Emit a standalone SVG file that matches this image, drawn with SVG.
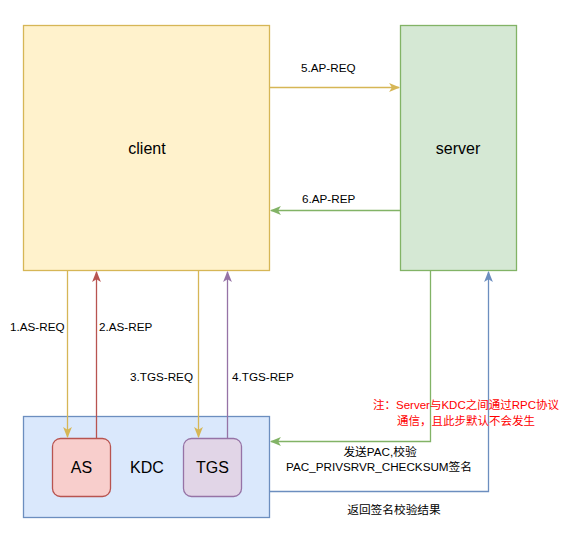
<svg xmlns="http://www.w3.org/2000/svg" width="566" height="545" viewBox="0 0 566 545">
<style>
.lbl{font-family:"Liberation Sans",Arial,"Noto Sans CJK SC",sans-serif;font-size:11.7px;fill:#000}
.big{font-family:"Liberation Sans",Arial,sans-serif;font-size:16px;fill:#000;text-anchor:middle;dominant-baseline:central}
.note{font-family:"Liberation Sans",Arial,"Noto Sans CJK SC",sans-serif;font-size:11.5px;fill:#ff0000;text-anchor:middle}
.edge{fill:none;stroke-width:1.3}
</style>
<defs>
<marker id="aY" viewBox="0 0 10 10" refX="9" refY="5" markerWidth="11" markerHeight="11" markerUnits="userSpaceOnUse" orient="auto"><path d="M0,1 L10,5 L0,9 L2.5,5 Z" fill="#d6b656"/></marker>
<marker id="aR" viewBox="0 0 10 10" refX="9" refY="5" markerWidth="11" markerHeight="11" markerUnits="userSpaceOnUse" orient="auto"><path d="M0,1 L10,5 L0,9 L2.5,5 Z" fill="#b85450"/></marker>
<marker id="aP" viewBox="0 0 10 10" refX="9" refY="5" markerWidth="11" markerHeight="11" markerUnits="userSpaceOnUse" orient="auto"><path d="M0,1 L10,5 L0,9 L2.5,5 Z" fill="#9673a6"/></marker>
<marker id="aG" viewBox="0 0 10 10" refX="9" refY="5" markerWidth="11" markerHeight="11" markerUnits="userSpaceOnUse" orient="auto"><path d="M0,1 L10,5 L0,9 L2.5,5 Z" fill="#82b366"/></marker>
<marker id="aB" viewBox="0 0 10 10" refX="9" refY="5" markerWidth="11" markerHeight="11" markerUnits="userSpaceOnUse" orient="auto"><path d="M0,1 L10,5 L0,9 L2.5,5 Z" fill="#6c8ebf"/></marker>
</defs>
<rect width="566" height="545" fill="#ffffff"/>
<g id="client"><rect x="23.5" y="25.5" width="246" height="245" fill="#fff2cc" stroke="#d6b656" stroke-width="1.3"/><text class="big" x="147" y="148">client</text></g>
<g id="server"><rect x="400.5" y="25.5" width="116" height="245" fill="#d5e8d4" stroke="#82b366" stroke-width="1.3"/><text class="big" x="458" y="148">server</text></g>
<g id="kdc"><rect x="23.5" y="416.5" width="246" height="101" fill="#dae8fc" stroke="#6c8ebf" stroke-width="1.3"/><text class="big" x="147" y="467">KDC</text></g>
<g id="as"><rect x="52.5" y="438.5" width="58" height="58" rx="8" fill="#f8cecc" stroke="#b85450" stroke-width="1.3"/><text class="big" x="81.5" y="467">AS</text></g>
<g id="tgs"><rect x="183.5" y="438.5" width="58" height="58" rx="8" fill="#e1d5e7" stroke="#9673a6" stroke-width="1.3"/><text class="big" x="212.5" y="467">TGS</text></g>
<g id="connectors">
<path class="edge" d="M67.5,271 L67.5,437" stroke="#d6b656" marker-end="url(#aY)"/>
<path class="edge" d="M96.5,438 L96.5,272" stroke="#b85450" marker-end="url(#aR)"/>
<path class="edge" d="M198.5,271 L198.5,437" stroke="#d6b656" marker-end="url(#aY)"/>
<path class="edge" d="M227.5,438 L227.5,272" stroke="#9673a6" marker-end="url(#aP)"/>
<path class="edge" d="M270,87.5 L399,87.5" stroke="#d6b656" marker-end="url(#aY)"/>
<path class="edge" d="M400,210.5 L271,210.5" stroke="#82b366" marker-end="url(#aG)"/>
<path class="edge" d="M430.5,271 L430.5,441.5 L271,441.5" stroke="#82b366" marker-end="url(#aG)"/>
<path class="edge" d="M270,491.5 L488.5,491.5 L488.5,272" stroke="#6c8ebf" marker-end="url(#aB)"/>
<text class="lbl" x="10" y="331">1.AS-REQ</text>
<text class="lbl" x="99" y="331">2.AS-REP</text>
<text class="lbl" x="130" y="381">3.TGS-REQ</text>
<text class="lbl" x="232" y="381">4.TGS-REP</text>
<text class="lbl" x="301" y="72">5.AP-REQ</text>
<text class="lbl" x="302" y="203">6.AP-REP</text>
<text class="lbl" x="380" y="456" text-anchor="middle">发送PAC,校验</text>
<text class="lbl" x="379" y="471" text-anchor="middle">PAC_PRIVSRVR_CHECKSUM签名</text>
<text class="lbl" x="394" y="514" text-anchor="middle">返回签名校验结果</text>
</g>
<text class="note" x="466" y="409">注：Server与KDC之间通过RPC协议</text>
<text class="note" x="466" y="425">通信，且此步默认不会发生</text>
</svg>
